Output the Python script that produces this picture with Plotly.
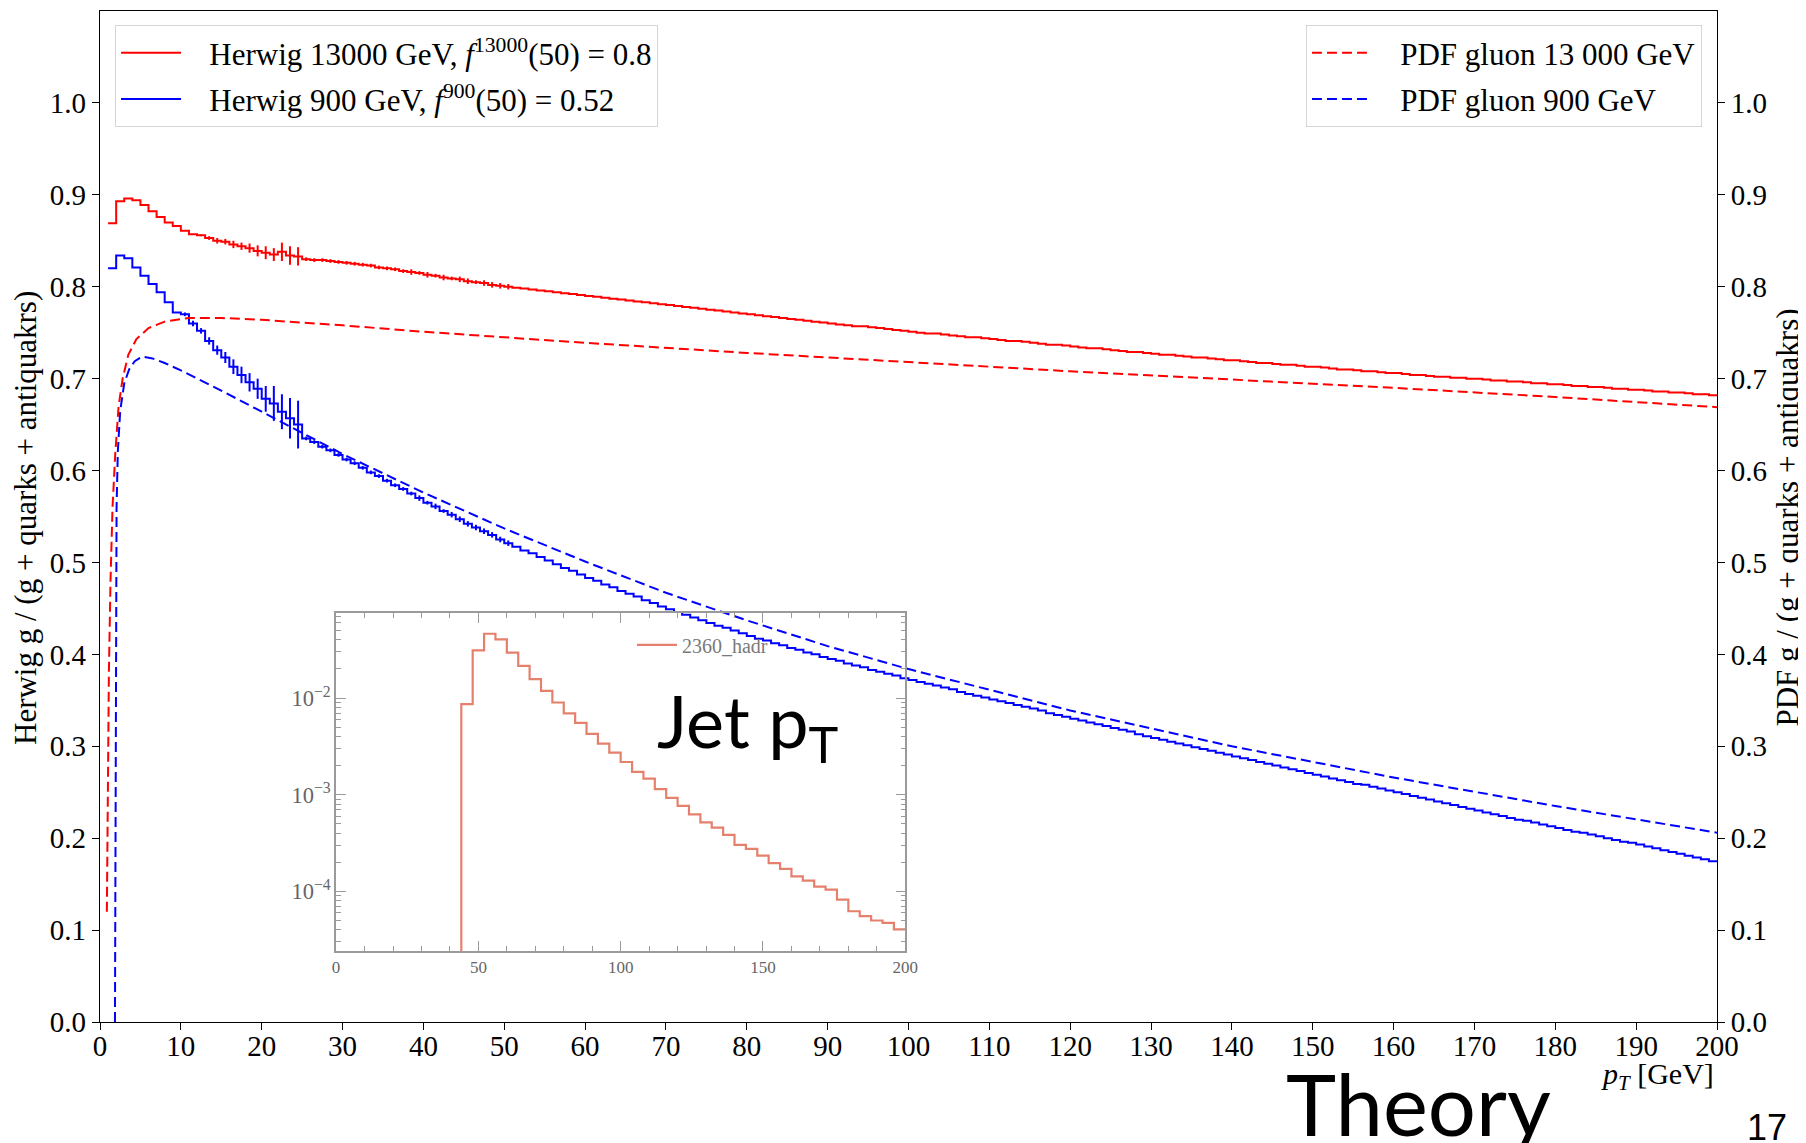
import plotly.graph_objects as go

# ---------------- data ----------------
# Herwig gluon fraction, 1 GeV bins starting at 1 GeV
pt_edges = list(range(1, 201))

herwig_13000 = [
    0.869, 0.893, 0.896, 0.894, 0.889, 0.882, 0.876, 0.870, 0.866, 0.861,
    0.857, 0.856, 0.853, 0.850, 0.849, 0.846, 0.844, 0.842, 0.839, 0.837,
    0.835, 0.838, 0.834, 0.833,
    0.830, 0.829, 0.829, 0.828, 0.827, 0.826, 0.825, 0.824, 0.823, 0.821,
    0.820, 0.819, 0.817, 0.816, 0.815, 0.813, 0.812, 0.810, 0.809, 0.808,
    0.806, 0.805, 0.804, 0.802, 0.801, 0.800, 0.799, 0.798, 0.797, 0.796,
    0.795, 0.794, 0.793, 0.792, 0.791, 0.790, 0.789, 0.788, 0.787, 0.786,
    0.785, 0.784, 0.783, 0.782, 0.781, 0.780, 0.779, 0.778, 0.777, 0.776,
    0.775, 0.774, 0.773, 0.772, 0.771, 0.770, 0.769, 0.768, 0.767, 0.766,
    0.765, 0.764, 0.763, 0.762, 0.761, 0.760, 0.759, 0.758, 0.757, 0.757,
    0.756, 0.755, 0.754, 0.753, 0.752, 0.751, 0.750, 0.749, 0.749, 0.748,
    0.747, 0.746, 0.745, 0.745, 0.744, 0.743, 0.742, 0.741, 0.741, 0.740,
    0.739, 0.738, 0.737, 0.737, 0.736, 0.735, 0.734, 0.733, 0.733, 0.732,
    0.731, 0.730, 0.729, 0.729, 0.728, 0.727, 0.726, 0.726, 0.725, 0.724,
    0.723, 0.723, 0.722, 0.721, 0.720, 0.720, 0.719, 0.718, 0.717, 0.717,
    0.716, 0.715, 0.715, 0.714, 0.713, 0.713, 0.712, 0.711, 0.710, 0.710,
    0.709, 0.708, 0.708, 0.707, 0.706, 0.706, 0.705, 0.704, 0.704, 0.703,
    0.702, 0.702, 0.701, 0.701, 0.700, 0.700, 0.699, 0.698, 0.698, 0.697,
    0.697, 0.696, 0.695, 0.695, 0.694, 0.694, 0.693, 0.692, 0.692, 0.691,
    0.691, 0.690, 0.689, 0.689, 0.688, 0.688, 0.687, 0.686, 0.686, 0.685,
    0.685, 0.684, 0.683, 0.683, 0.682,
]

herwig_900 = [
    0.820, 0.834, 0.831, 0.821, 0.812, 0.803, 0.794, 0.783, 0.772, 0.770,
    0.760, 0.752, 0.741, 0.731, 0.723, 0.713, 0.704, 0.696, 0.689, 0.678,
    0.673, 0.664, 0.657, 0.650,
    0.635, 0.631, 0.626, 0.622, 0.617, 0.612, 0.608, 0.603, 0.598, 0.594,
    0.589, 0.584, 0.580, 0.575, 0.570, 0.565, 0.561, 0.556, 0.552, 0.547,
    0.542, 0.538, 0.534, 0.530, 0.525,
    0.521, 0.517, 0.513, 0.510, 0.506, 0.502, 0.498, 0.494, 0.491, 0.487,
    0.483, 0.480, 0.476, 0.473, 0.469, 0.466, 0.463, 0.459, 0.456, 0.452,
    0.449, 0.446, 0.443, 0.440, 0.437, 0.434, 0.431, 0.429, 0.426, 0.423,
    0.420, 0.417, 0.415, 0.412, 0.410, 0.407, 0.405, 0.402, 0.400, 0.397,
    0.395, 0.393, 0.390, 0.388, 0.386, 0.383, 0.381, 0.379, 0.377, 0.374,
    0.372, 0.370, 0.368, 0.366, 0.364, 0.362, 0.359, 0.357, 0.355, 0.353,
    0.351, 0.349, 0.347, 0.345, 0.343, 0.341, 0.339, 0.336, 0.334, 0.332,
    0.330, 0.328, 0.326, 0.324, 0.322, 0.320, 0.318, 0.316, 0.313, 0.311,
    0.309, 0.307, 0.305, 0.303, 0.301, 0.299, 0.297, 0.295, 0.293, 0.291,
    0.289, 0.287, 0.285, 0.283, 0.281, 0.279, 0.277, 0.275, 0.273, 0.271,
    0.269, 0.267, 0.265, 0.263, 0.261, 0.259, 0.258, 0.256, 0.254, 0.252,
    0.250, 0.248, 0.246, 0.244, 0.242, 0.240, 0.238, 0.236, 0.234, 0.232,
    0.230, 0.228, 0.226, 0.224, 0.222, 0.220, 0.219, 0.217, 0.215, 0.213,
    0.211, 0.209, 0.207, 0.206, 0.204, 0.202, 0.200, 0.198, 0.196, 0.195,
    0.193, 0.191, 0.189, 0.187, 0.185, 0.183, 0.181, 0.179, 0.177, 0.175,
]

# statistical errors of the first 50 bins
err_13000 = [
    0, 0, 0, 0, 0, 0, 0, 0, 0, 0,
    0, 0.001, 0.002, 0.003, 0.003, 0.004, 0.004, 0.005, 0.006, 0.007,
    0.007, 0.010, 0.010, 0.010, 0.002, 0.002, 0.002, 0.002, 0.002, 0.002,
    0.002, 0.002, 0.002, 0.002, 0.002, 0.002, 0.002, 0.003, 0.002, 0.003,
    0.002, 0.003, 0.002, 0.003, 0.003, 0.002, 0.003, 0.003, 0.003, 0.003,
]
err_900 = [
    0, 0, 0, 0, 0, 0, 0, 0, 0, 0.002,
    0.003, 0.003, 0.004, 0.005, 0.006, 0.008, 0.009, 0.010, 0.011, 0.014,
    0.019, 0.019, 0.022, 0.026, 0.002, 0.002, 0.002, 0.002, 0.002, 0.002,
    0.002, 0.002, 0.002, 0.002, 0.002, 0.002, 0.002, 0.002, 0.003, 0.002,
    0.003, 0.002, 0.003, 0.003, 0.003, 0.003, 0.003, 0.003, 0.003, 0.003,
]

# PDF gluon fractions
pdf13_pt = [0.85, 0.95, 1.1, 1.3, 1.55, 1.9, 2.3, 2.8, 3.5, 4.5, 6, 8, 11, 15,
            20, 30, 40, 50, 60, 80, 100, 120, 140, 160, 180, 200]
pdf13_val = [0.12, 0.25, 0.38, 0.48, 0.56, 0.62, 0.67, 0.70, 0.726, 0.743, 0.755,
             0.762, 0.766, 0.766, 0.764, 0.758, 0.751, 0.745, 0.739, 0.728, 0.718,
             0.708, 0.699, 0.690, 0.680, 0.669]
pdf900_pt = [1.85, 1.9, 1.97, 2.05, 2.2, 2.5, 3.0, 3.6, 4.3, 5.2, 6.5, 8, 10, 15,
             20, 25, 30, 40, 50, 60, 70, 80, 90, 100, 120, 140, 160, 180, 200]
pdf900_val = [0.0, 0.25, 0.45, 0.56, 0.62, 0.665, 0.695, 0.71, 0.719, 0.724, 0.722,
              0.717, 0.709, 0.687, 0.664, 0.641, 0.618, 0.576, 0.537, 0.501, 0.467,
              0.437, 0.409, 0.384, 0.339, 0.300, 0.266, 0.235, 0.206]

# inset: jet pT spectrum, 4 GeV bins
inset_edges = list(range(44, 201, 4))
inset_vals = [
    8.67e-3, 3.12e-2, 4.63e-2, 4.05e-2, 2.95e-2, 2.15e-2, 1.57e-2, 1.19e-2, 9.0e-3, 6.95e-3,
    5.53e-3, 4.27e-3, 3.37e-3, 2.72e-3, 2.18e-3, 1.72e-3, 1.47e-3, 1.14e-3, 9.27e-4, 7.67e-4,
    6.25e-4, 5.18e-4, 4.56e-4, 3.83e-4, 3.02e-4, 2.75e-4, 2.34e-4, 1.96e-4, 1.71e-4, 1.43e-4,
    1.29e-4, 1.12e-4, 1.04e-4, 8.2e-5, 6.22e-5, 5.53e-5, 4.99e-5, 4.72e-5, 4.04e-5,
]
inset_floor = 1e-6

y_ticks = [0.0, 0.1, 0.2, 0.3, 0.4, 0.5, 0.6, 0.7, 0.8, 0.9, 1.0]
x_ticks = list(range(0, 201, 10))
inset_x_ticks = [0, 50, 100, 150, 200]


def step_xy(edges, vals):
    n = len(vals)
    return edges[:n] + [edges[n]], vals + [vals[-1]]


RED = "#ff0000"
BLUE = "#0000ff"
SERIF = "Liberation Serif"
GAP = "&nbsp;&nbsp;&nbsp;"

fig = go.Figure()

# inset histogram
ix, iy = step_xy(inset_edges, inset_vals)
fig.add_trace(go.Scatter(
    x=[inset_edges[0]] + ix, y=[inset_floor] + iy, mode="lines",
    line=dict(color="#e5806d", width=2.2, shape="hv"),
    name="2360_hadr", xaxis="x3", yaxis="y3", legend="legend3"))

# Herwig histograms
for vals, errs, col, name, grp in [
    (herwig_13000, err_13000, RED, "Herwig 13000 GeV, <i>f</i><sup>13000</sup>(50) = 0.8", "a"),
    (herwig_900, err_900, BLUE, "Herwig 900 GeV, <i>f</i><sup>900</sup>(50) = 0.52", "b"),
]:
    sx, sy = step_xy(pt_edges, vals)
    fig.add_trace(go.Scatter(
        x=sx, y=sy, mode="lines", line=dict(color=col, width=2, shape="hv"),
        name=GAP + name, legend="legend", legendgroup=grp))
    fig.add_trace(go.Scatter(
        x=[e + 0.5 for e in pt_edges[:len(errs)]], y=vals[:len(errs)], mode="markers",
        marker=dict(size=1, color="rgba(0,0,0,0)"),
        error_y=dict(type="data", array=errs, color=col, thickness=2, width=0),
        showlegend=False, hoverinfo="skip"))

# PDF curves
for xs, ys, col, name, grp in [
    (pdf13_pt, pdf13_val, RED, "PDF gluon 13 000 GeV", "c"),
    (pdf900_pt, pdf900_val, BLUE, "PDF gluon 900 GeV", "d"),
]:
    fig.add_trace(go.Scatter(
        x=xs, y=ys, mode="lines", yaxis="y2",
        line=dict(color=col, width=2, dash="10px,5px"),
        name=GAP + name, legend="legend2", legendgroup=grp))

axis_common = dict(showgrid=False, zeroline=False, ticks="outside", ticklen=7,
                   tickwidth=1.3, tickcolor="black", automargin=False)

fig.update_layout(
    width=1806, height=1143,
    margin=dict(l=92, r=97, t=3, b=129, autoexpand=False),
    paper_bgcolor="white", plot_bgcolor="rgba(0,0,0,0)",
    font=dict(family=SERIF, color="black"),
    xaxis=dict(domain=[0, 1], range=[0, 200], tickvals=x_ticks, showline=True,
               linecolor="black", linewidth=1.3, mirror=True, ticklabelstandoff=-9,
               tickfont=dict(size=29), anchor="y", **axis_common),
    yaxis=dict(range=[0, 1.1], tickvals=y_ticks, tickformat=".1f", showline=True,
               linecolor="black", linewidth=1.3, mirror=True,
               tickfont=dict(size=29), **axis_common),
    yaxis2=dict(range=[0, 1.1], tickvals=y_ticks, tickformat=".1f", overlaying="y",
                side="right", showline=False, tickfont=dict(size=29),
                **axis_common),
    xaxis3=dict(domain=[0.146, 0.498], anchor="y3", range=[0, 200],
                tickvals=inset_x_ticks, showline=True, linecolor="#9a9a9a",
                linewidth=1.5, mirror="allticks", ticks="inside", ticklen=10,
                tickcolor="#9a9a9a", showgrid=False, zeroline=False, automargin=False,
                tickfont=dict(size=17, color="#666666"),
                minor=dict(dtick=10, ticks="inside", ticklen=5, tickcolor="#9a9a9a")),
    yaxis3=dict(domain=[0.070, 0.4045], anchor="x3", type="log",
                range=[-4.62, -1.12], dtick=1, exponentformat="power",
                showline=True, linecolor="#9a9a9a", linewidth=1.5,
                mirror="allticks", ticks="inside", ticklen=10, tickcolor="#9a9a9a",
                showgrid=False, zeroline=False, automargin=False,
                tickfont=dict(size=18, color="#666666"),
                minor=dict(dtick="D1", ticks="inside", ticklen=5, tickcolor="#9a9a9a")),
    legend=dict(x=0.0093, y=0.986, xanchor="left", yanchor="top",
                bgcolor="white", bordercolor="#d6d6d6", borderwidth=1,
                font=dict(family=SERIF, size=31, color="black"),
                traceorder="grouped", tracegroupgap=3, itemwidth=60),
    legend2=dict(x=0.9907, y=0.986, xanchor="right", yanchor="top",
                 bgcolor="white", bordercolor="#d6d6d6", borderwidth=1,
                 font=dict(family=SERIF, size=31, color="black"),
                 traceorder="grouped", tracegroupgap=3, itemwidth=60),
    legend3=dict(x=0.329, y=0.373, xanchor="left", yanchor="middle",
                 bgcolor="rgba(0,0,0,0)", borderwidth=0,
                 font=dict(family=SERIF, size=20, color="#7a7a7a"), itemwidth=40),
    showlegend=True,
)

ann = [
    dict(text="Herwig g / (g + quarks + antiquakrs)", x=-0.0464, y=0.4985,
         xanchor="center", yanchor="middle", textangle=-90,
         font=dict(family=SERIF, size=31, color="black")),
    dict(text="PDF g / (g + quarks + antiquakrs)", x=1.0430, y=0.4985,
         xanchor="center", yanchor="middle", textangle=-90,
         font=dict(family=SERIF, size=31, color="black")),
    dict(text="<i>p<sub>T</sub></i> [GeV]", x=0.9994, y=-0.0534, xanchor="right",
         yanchor="middle", font=dict(family=SERIF, size=30, color="black")),
    dict(text="Theory", x=0.7320, y=-0.0805, xanchor="left", yanchor="middle",
         font=dict(family="Lato", size=85, color="black")),
    dict(text="Jet p<sub>T</sub>", x=0.3430, y=0.2930, xanchor="left", yanchor="middle",
         font=dict(family="Lato", size=72, color="black")),
    dict(text="17", x=1.0175, y=-0.1040, xanchor="left", yanchor="middle",
         font=dict(family="Liberation Sans", size=36, color="black")),
]
for a in ann:
    fig.add_annotation(xref="paper", yref="paper", showarrow=False, **a)

fig.write_html("out.html")
